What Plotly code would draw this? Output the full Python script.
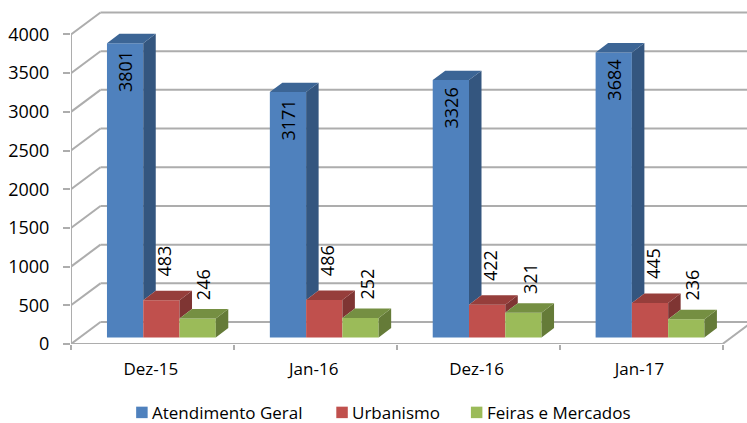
import plotly.graph_objects as go

categories = ["Dez-15", "Jan-16", "Dez-16", "Jan-17"]
atendimento = [3801, 3171, 3326, 3684]
urbanismo = [483, 486, 422, 445]
feiras = [246, 252, 321, 236]
series_names = ["Atendimento Geral", "Urbanismo", "Feiras e Mercados"]
y_ticks = [0, 500, 1000, 1500, 2000, 2500, 3000, 3500, 4000]

series = [atendimento, urbanismo, feiras]
front = ["#4F81BD", "#C0504D", "#9BBB59"]
top = ["#3C6595", "#963E3B", "#758F42"]
side = ["#34567F", "#7F3533", "#657B38"]

W, H = 747, 423
L, B = 70.5, 78.5
PX_X, PX_Y = 163.0, 0.0775      # pixels per category / per unit
FONT = "Open Sans"
FS = 17
FS_NUM = 18
GRID = "#ADADAD"

x_max = (W - L) / PX_X
y_max = (H - B) / PX_Y
wall_dx, wall_dy = 29.5 / PX_X, 22 / PX_Y
bar_dx, bar_dy = 12.5 / PX_X, 9.5 / PX_Y
start = 36 / PX_X
bar_w = 36.3 / PX_X
base = 6.5 / PX_Y

fig = go.Figure()

# front faces
for s, vals in enumerate(series):
    fig.add_bar(
        x=[i + start + (s + 0.5) * bar_w for i in range(len(vals))],
        y=vals,
        base=[base] * len(vals),
        width=bar_w,
        name=series_names[s],
        showlegend=False,
        marker=dict(color=front[s], line=dict(width=0)),
        hoverinfo="skip",
    )

# side and top faces
for s, vals in enumerate(series):
    sx, sy, tx, ty = [], [], [], []
    for i, v in enumerate(vals):
        xl = i + start + s * bar_w
        xr = xl + bar_w
        yt = base + v
        yb = base + (series[s + 1][i] if s + 1 < len(series) else 0)
        sx += [xr, xr, xr + bar_dx, xr + bar_dx, xr, None]
        sy += [yb, yt, yt + bar_dy, yb + bar_dy, yb, None]
        tx += [xl, xr, xr + bar_dx, xl + bar_dx, xl, None]
        ty += [yt, yt, yt + bar_dy, yt + bar_dy, yt, None]
    for px, py, col in ((sx, sy, side[s]), (tx, ty, top[s])):
        fig.add_scatter(x=px, y=py, mode="lines", fill="toself", fillcolor=col,
                        line=dict(width=0, color=col), showlegend=False, hoverinfo="skip")

# axis lines, kept to the axis extent
fig.add_scatter(x=[0, 0], y=[0, y_ticks[-1]], mode="lines", cliponaxis=False,
                line=dict(color=GRID, width=2), showlegend=False, hoverinfo="skip")
fig.add_scatter(x=[0, len(categories)], y=[0, 0], mode="lines", cliponaxis=False,
                line=dict(color=GRID, width=2), showlegend=False, hoverinfo="skip")

# wall and floor gridlines
shapes = []
for v in y_ticks:
    line = dict(color=GRID, width=2)
    shapes.append(dict(type="line", layer="below", xref="x", yref="y", x0=0, y0=v,
                       x1=wall_dx, y1=v + wall_dy, line=line))
    shapes.append(dict(type="line", layer="below", xref="x", yref="y", x0=wall_dx,
                       y0=v + wall_dy, x1=x_max, y1=v + wall_dy, line=line))
shapes.append(dict(type="line", layer="below", xref="x", yref="y", x0=len(categories), y0=0,
                   x1=len(categories) + wall_dx, y1=wall_dy, line=dict(color=GRID, width=2)))

# rotated value labels
label_shift = [(0.5, -28), (3, 39), (6, 34)]
annotations = []
for s, vals in enumerate(series):
    dx, dy = label_shift[s]
    for i, v in enumerate(vals):
        annotations.append(dict(
            x=i + start + (s + 0.5) * bar_w, y=base + v, xref="x", yref="y",
            text=str(v), textangle=-90, showarrow=False,
            xanchor="center", yanchor="middle", xshift=dx, yshift=dy,
            font=dict(family=FONT, size=FS_NUM, color="#000000"),
        ))

# legend row, placed in paper space
plot_w, plot_h = W - L, H - B
legend_square_left = [135.7, 336.0, 470.7]
legend_y, legend_size = 413.0, 11.5
for name, col, x_px in zip(series_names, front, legend_square_left):
    shapes.append(dict(type="rect", xref="paper", yref="paper", layer="above",
                       x0=(x_px - L) / plot_w, x1=(x_px + legend_size - L) / plot_w,
                       y0=-(legend_y + legend_size / 2 - plot_h) / plot_h,
                       y1=-(legend_y - legend_size / 2 - plot_h) / plot_h,
                       fillcolor=col, line=dict(width=0)))
    annotations.append(dict(
        x=(x_px + legend_size + 4.5 - L) / plot_w, y=-(legend_y - plot_h) / plot_h,
        xref="paper", yref="paper", text=name, showarrow=False,
        xanchor="left", yanchor="middle", xshift=0, borderpad=0, borderwidth=0,
        font=dict(family=FONT, size=FS, color="#000000"),
    ))

fig.update_layout(
    width=W, height=H,
    margin=dict(l=L, r=0, t=0, b=B, pad=0, autoexpand=False),
    paper_bgcolor="#FFFFFF", plot_bgcolor="#FFFFFF",
    barmode="overlay", showlegend=False,
    shapes=shapes, annotations=annotations,
    font=dict(family=FONT, size=FS, color="#000000"),
    xaxis=dict(
        range=[0, x_max], showgrid=False, zeroline=False, showline=False,
        tickmode="array", tickvals=[i + 0.49 for i in range(len(categories))],
        ticktext=categories, ticks="", ticklabelstandoff=13,
        minor=dict(tickmode="array", tickvals=list(range(len(categories) + 1)),
                   ticks="outside", ticklen=5, tickwidth=1.5, tickcolor=GRID, showgrid=False),
    ),
    yaxis=dict(
        range=[0, y_max], showgrid=False, zeroline=False, showline=False,
        tickmode="array", tickvals=y_ticks, ticks="outside", ticklen=7, tickwidth=1.5,
        tickcolor=GRID, ticklabelstandoff=10, tickfont=dict(family=FONT, size=FS_NUM),
    ),
)

fig.write_html("out.html", config={"displayModeBar": False},
               post_script="document.body.style.margin='0';document.body.style.overflow='hidden';")
